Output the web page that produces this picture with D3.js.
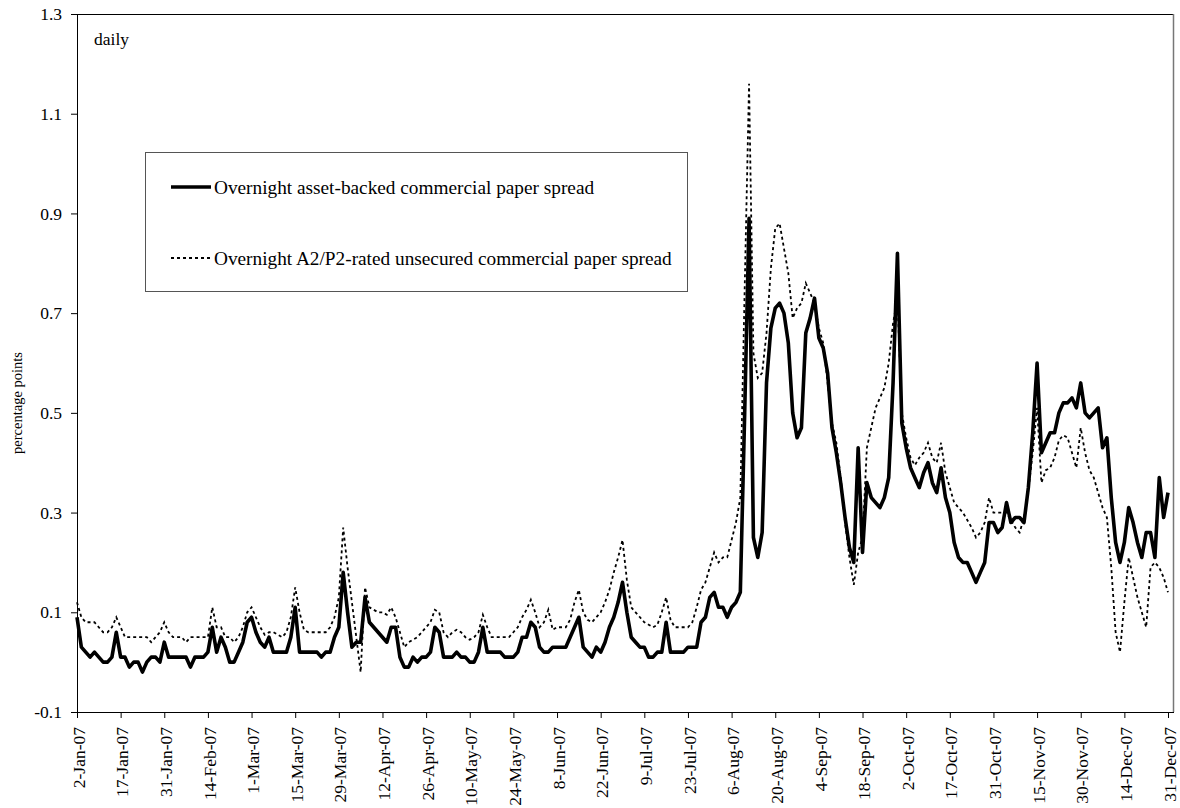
<!DOCTYPE html>
<html>
<head>
<meta charset="utf-8">
<script src="https://cdn.jsdelivr.net/npm/d3@7"></script>
<style>
  html, body { margin: 0; padding: 0; background: #fff; }
  svg text { font-family: "Liberation Serif", "Times New Roman", serif; fill: #000; }
</style>
</head>
<body>
<svg id="chart" width="1180" height="808"></svg>
<script>
// US federal holidays in 2007 (no quotes published on these days)
const holidays2007 = ["2007-01-15", "2007-02-19", "2007-05-28", "2007-07-04", "2007-09-03",
                      "2007-10-08", "2007-11-12", "2007-11-22", "2007-12-25"];

// Overnight ABCP spread, percentage points, one row per ten business days
const abcpSpread = [
  0.09, 0.03, 0.02, 0.01, 0.02, 0.01, 0.00, 0.00, 0.01, 0.06,
  0.01, 0.01, -0.01, 0.00, 0.00, -0.02, 0.00, 0.01, 0.01, 0.00,
  0.04, 0.01, 0.01, 0.01, 0.01, 0.01, -0.01, 0.01, 0.01, 0.01,
  0.02, 0.07, 0.02, 0.05, 0.03, 0.00, 0.00, 0.02, 0.04, 0.08,
  0.09, 0.06, 0.04, 0.03, 0.05, 0.02, 0.02, 0.02, 0.02, 0.05,
  0.11, 0.02, 0.02, 0.02, 0.02, 0.02, 0.01, 0.02, 0.02, 0.05,
  0.07, 0.18, 0.10, 0.03, 0.04, 0.04, 0.13, 0.08, 0.07, 0.06,
  0.05, 0.04, 0.07, 0.07, 0.01, -0.01, -0.01, 0.01, 0.00, 0.01,
  0.01, 0.02, 0.07, 0.06, 0.01, 0.01, 0.01, 0.02, 0.01, 0.01,
  0.00, 0.00, 0.02, 0.07, 0.02, 0.02, 0.02, 0.02, 0.01, 0.01,
  0.01, 0.02, 0.05, 0.05, 0.08, 0.07, 0.03, 0.02, 0.02, 0.03,
  0.03, 0.03, 0.03, 0.05, 0.07, 0.09, 0.03, 0.02, 0.01, 0.03,
  0.02, 0.04, 0.07, 0.09, 0.12, 0.16, 0.10, 0.05, 0.04, 0.03,
  0.03, 0.01, 0.01, 0.02, 0.02, 0.08, 0.02, 0.02, 0.02, 0.02,
  0.03, 0.03, 0.03, 0.08, 0.09, 0.13, 0.14, 0.11, 0.11, 0.09,
  0.11, 0.12, 0.14, 0.50, 0.89, 0.25, 0.21, 0.26, 0.56, 0.67,
  0.71, 0.72, 0.70, 0.64, 0.50, 0.45, 0.47, 0.66, 0.69, 0.73,
  0.65, 0.63, 0.58, 0.47, 0.42, 0.36, 0.29, 0.23, 0.20, 0.43,
  0.22, 0.36, 0.33, 0.32, 0.31, 0.33, 0.37, 0.56, 0.82, 0.48,
  0.43, 0.39, 0.37, 0.35, 0.38, 0.40, 0.36, 0.34, 0.39, 0.33,
  0.30, 0.24, 0.21, 0.20, 0.20, 0.18, 0.16, 0.18, 0.20, 0.28,
  0.28, 0.26, 0.27, 0.32, 0.28, 0.29, 0.29, 0.28, 0.35, 0.46,
  0.60, 0.42, 0.44, 0.46, 0.46, 0.50, 0.52, 0.52, 0.53, 0.51,
  0.56, 0.50, 0.49, 0.50, 0.51, 0.43, 0.45, 0.33, 0.24, 0.20,
  0.24, 0.31, 0.28, 0.24, 0.21, 0.26, 0.26, 0.21, 0.37, 0.29,
  0.34
];

// Overnight A2/P2 unsecured CP spread, percentage points
const a2p2Spread = [
  0.12, 0.09, 0.08, 0.08, 0.08, 0.07, 0.06, 0.06, 0.07, 0.09,
  0.07, 0.05, 0.05, 0.05, 0.05, 0.05, 0.05, 0.04, 0.05, 0.06,
  0.08, 0.06, 0.05, 0.05, 0.05, 0.04, 0.05, 0.05, 0.05, 0.05,
  0.05, 0.11, 0.07, 0.07, 0.05, 0.05, 0.04, 0.05, 0.07, 0.10,
  0.11, 0.09, 0.07, 0.055, 0.06, 0.06, 0.055, 0.05, 0.06, 0.09,
  0.15, 0.10, 0.065, 0.06, 0.06, 0.06, 0.06, 0.06, 0.07, 0.09,
  0.13, 0.27, 0.19, 0.12, 0.05, -0.02, 0.15, 0.11, 0.105, 0.10,
  0.10, 0.095, 0.11, 0.09, 0.06, 0.03, 0.04, 0.045, 0.05, 0.06,
  0.07, 0.08, 0.105, 0.10, 0.06, 0.05, 0.06, 0.065, 0.06, 0.05,
  0.045, 0.05, 0.06, 0.095, 0.07, 0.05, 0.05, 0.05, 0.05, 0.05,
  0.06, 0.07, 0.09, 0.105, 0.125, 0.10, 0.07, 0.08, 0.105, 0.065,
  0.07, 0.07, 0.07, 0.085, 0.12, 0.145, 0.10, 0.085, 0.08, 0.09,
  0.10, 0.12, 0.145, 0.18, 0.21, 0.245, 0.165, 0.11, 0.10, 0.09,
  0.08, 0.075, 0.07, 0.075, 0.10, 0.13, 0.085, 0.07, 0.07, 0.07,
  0.07, 0.08, 0.11, 0.145, 0.16, 0.19, 0.22, 0.20, 0.21, 0.21,
  0.245, 0.28, 0.33, 0.75, 1.16, 0.62, 0.57, 0.58, 0.66, 0.79,
  0.87, 0.88, 0.83, 0.78, 0.69, 0.71, 0.72, 0.76, 0.74, 0.72,
  0.67, 0.64, 0.56, 0.48, 0.44, 0.37, 0.28, 0.21, 0.155, 0.22,
  0.25, 0.43, 0.47, 0.51, 0.53, 0.55, 0.60, 0.68, 0.73, 0.50,
  0.45, 0.41, 0.395, 0.41, 0.42, 0.44, 0.41, 0.40, 0.44, 0.38,
  0.35, 0.32, 0.31, 0.30, 0.285, 0.27, 0.25, 0.26, 0.28, 0.33,
  0.30, 0.30, 0.30, 0.30, 0.285, 0.27, 0.26, 0.29, 0.345, 0.42,
  0.51, 0.36, 0.385, 0.39, 0.41, 0.445, 0.455, 0.45, 0.42, 0.39,
  0.47, 0.42, 0.385, 0.37, 0.34, 0.31, 0.29, 0.19, 0.06, 0.02,
  0.12, 0.21, 0.17, 0.13, 0.10, 0.07, 0.19, 0.20, 0.19, 0.17,
  0.14
];

const yTickValues = [-0.1, 0.1, 0.3, 0.5, 0.7, 0.9, 1.1, 1.3];
const xLabelEvery = 10;
const seriesLabels = [
  "Overnight asset-backed commercial paper spread",
  "Overnight A2/P2-rated unsecured commercial paper spread"
];
const yAxisTitle = "percentage points";
const frequencyNote = "daily";

// ---- categories: business days of 2007 ----
const dayKey = d3.utcFormat("%Y-%m-%d");
const closed = new Set(holidays2007);
const businessDays = d3.utcDay
  .range(new Date(Date.UTC(2007, 0, 2)), new Date(Date.UTC(2008, 0, 1)))
  .filter(d => d.getUTCDay() !== 0 && d.getUTCDay() !== 6 && !closed.has(dayKey(d)));
const dayLabel = d3.utcFormat("%-d-%b-%y");

// ---- geometry ----
const plot = { left: 77, right: 1173, top: 14, bottom: 712 };
const lastIndex = businessDays.length - 1;

const x = d3.scaleLinear().domain([0, lastIndex]).range([plot.left, 1168]);
const y = d3.scaleLinear().domain([-0.1, 1.3]).range([plot.bottom, plot.top]);

const svg = d3.select("#chart");
svg.append("rect").attr("width", 1180).attr("height", 808).attr("fill", "#fff");

// plot frame (top and right edges)
svg.append("line")
  .attr("x1", plot.left).attr("x2", plot.right)
  .attr("y1", plot.top + 0.5).attr("y2", plot.top + 0.5)
  .attr("stroke", "#000").attr("stroke-width", 1);
svg.append("line")
  .attr("x1", plot.right + 0.5).attr("x2", plot.right + 0.5)
  .attr("y1", plot.top).attr("y2", plot.bottom)
  .attr("stroke", "#777").attr("stroke-width", 1.5);

// ---- y axis ----
const numLocale = d3.formatLocale({ decimal: ".", thousands: ",", grouping: [3], currency: ["", ""], minus: "-" });
const yAxis = d3.axisLeft(y)
  .tickValues(yTickValues)
  .tickFormat(numLocale.format(".1f"))
  .tickSizeInner(6).tickSizeOuter(0).tickPadding(9);
const gy = svg.append("g").attr("transform", `translate(${plot.left},0)`).call(yAxis);
gy.selectAll("text").style("font-size", "17.5px");
gy.selectAll("line, path").attr("stroke", "#000");

// ---- x axis ----
const xTicks = d3.range(0, lastIndex + 1, xLabelEvery);
const xAxis = d3.axisBottom(x)
  .tickValues(xTicks)
  .tickFormat(i => dayLabel(businessDays[i]))
  .tickSizeInner(6).tickSizeOuter(0);
const gx = svg.append("g").attr("transform", `translate(0,${plot.bottom})`).call(xAxis);
gx.select(".domain").remove();
gx.selectAll("line").attr("stroke", "#000");
gx.selectAll("text")
  .style("font-size", "17.5px")
  .attr("text-anchor", "end")
  .attr("transform", "rotate(-90)")
  .attr("x", -15)
  .attr("y", 1)
  .attr("dy", "0.35em");
svg.append("line")
  .attr("x1", plot.left).attr("x2", plot.right + 1)
  .attr("y1", plot.bottom + 0.5).attr("y2", plot.bottom + 0.5)
  .attr("stroke", "#000");

// ---- series ----
const lineGen = d3.line()
  .x((d, i) => x(i))
  .y(d => y(d));

svg.append("path")
  .datum(abcpSpread)
  .attr("d", lineGen)
  .attr("fill", "none")
  .attr("stroke", "#000")
  .attr("stroke-width", 3.6)
  .attr("stroke-linejoin", "round");

svg.append("path")
  .datum(a2p2Spread)
  .attr("d", lineGen)
  .attr("fill", "none")
  .attr("stroke", "#000")
  .attr("stroke-width", 1.8)
  .attr("stroke-dasharray", "3,3");

// ---- annotations ----
svg.append("text")
  .attr("x", 94).attr("y", 45)
  .style("font-size", "17.5px")
  .text(frequencyNote);

svg.append("text")
  .attr("transform", "translate(22,403) rotate(-90)")
  .attr("text-anchor", "middle")
  .style("font-size", "14.5px")
  .text(yAxisTitle);

// ---- legend ----
const legend = svg.append("g");
legend.append("rect")
  .attr("x", 145.5).attr("y", 152.5)
  .attr("width", 542).attr("height", 139)
  .attr("fill", "#fff").attr("stroke", "#555").attr("stroke-width", 1);

const legendRows = [
  { label: seriesLabels[0], y: 187, width: 3.6, dash: null },
  { label: seriesLabels[1], y: 258, width: 1.8, dash: "3,3" }
];
legendRows.forEach(r => {
  legend.append("line")
    .attr("x1", 171).attr("x2", 211)
    .attr("y1", r.y).attr("y2", r.y)
    .attr("stroke", "#000").attr("stroke-width", r.width)
    .attr("stroke-dasharray", r.dash);
  legend.append("text")
    .attr("x", 214).attr("y", r.y).attr("dy", "0.35em")
    .style("font-size", "19.3px")
    .text(r.label);
});
</script>
</body>
</html>
